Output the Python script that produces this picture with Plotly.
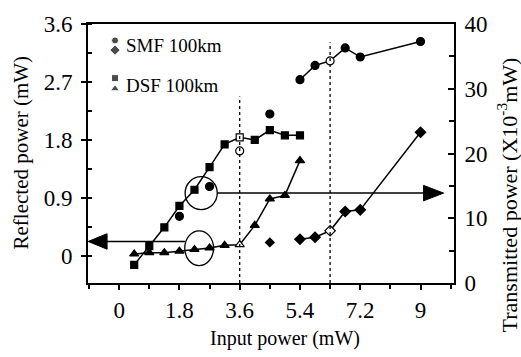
import plotly.graph_objects as go

# ---------------- data ----------------
# DSF 100km (squares = transmitted, triangles = reflected)
dsf_x = [0.45, 0.9, 1.35, 1.8, 2.25, 2.7, 3.15, 3.6, 4.05, 4.5, 4.95, 5.4]
dsf_trans = [2.8, 5.7, 8.6, 11.9, 14.4, 17.9, 21.4, 22.5, 22.1, 23.6, 22.8, 22.8]
dsf_refl = [0.03, 0.05, 0.05, 0.075, 0.10, 0.125, 0.165, 0.175, 0.475, 0.885, 0.94, 1.48]

# SMF 100km (circles = transmitted, diamonds = reflected)
smf_trans_pts_x = [1.8, 2.7, 3.6, 4.5]
smf_trans_pts = [10.3, 14.9, 20.4, 26.1]
smf_x = [5.4, 5.85, 6.3, 6.75, 7.2, 9.0]
smf_trans = [31.4, 33.6, 34.3, 36.3, 34.9, 37.3]
smf_refl_pts_x = [4.5]
smf_refl_pts = [0.21]
smf_refl = [0.26, 0.29, 0.39, 0.69, 0.715, 1.92]

dsf_threshold = 3.6
smf_threshold = 6.3

x_ticks = [0, 1.8, 3.6, 5.4, 7.2, 9]
x_ticklabels = ["0", "1.8", "3.6", "5.4", "7.2", "9"]
yl_ticks = [0, 0.9, 1.8, 2.7, 3.6]
yl_ticklabels = ["0", "0.9", "1.8", "2.7", "3.6"]
yr_ticks = [0, 10, 20, 30, 40]
yr_ticklabels = ["0", "10", "20", "30", "40"]

legend_labels = ["SMF 100km", "DSF 100km"]

FONT = "Liberation Serif"


def fills(xs, open_at):
    return ["white" if x in open_at else "black" for x in xs]


fig = go.Figure()

fig.add_trace(go.Scatter(
    x=dsf_x, y=dsf_trans, yaxis="y2", mode="lines+markers",
    line=dict(color="black", width=1.5),
    marker=dict(symbol="square", size=7, color=fills(dsf_x, [dsf_threshold]),
                line=dict(color="black", width=1.2)),
    showlegend=False))
fig.add_trace(go.Scatter(
    x=dsf_x, y=dsf_refl, yaxis="y", mode="lines+markers",
    line=dict(color="black", width=1.5),
    marker=dict(symbol="triangle-up", size=8, color=fills(dsf_x, [dsf_threshold]),
                line=dict(color="black", width=1.2)),
    showlegend=False))
fig.add_trace(go.Scatter(
    x=smf_trans_pts_x, y=smf_trans_pts, yaxis="y2", mode="markers",
    marker=dict(symbol="circle", size=8, color=fills(smf_trans_pts_x, [dsf_threshold]),
                line=dict(color="black", width=1.2)),
    showlegend=False))
fig.add_trace(go.Scatter(
    x=smf_x, y=smf_trans, yaxis="y2", mode="lines+markers",
    line=dict(color="black", width=1.5),
    marker=dict(symbol="circle", size=8, color=fills(smf_x, [smf_threshold]),
                line=dict(color="black", width=1.2)),
    showlegend=False))
fig.add_trace(go.Scatter(
    x=smf_refl_pts_x, y=smf_refl_pts, yaxis="y", mode="markers",
    marker=dict(symbol="diamond", size=8, color="black"),
    showlegend=False))
fig.add_trace(go.Scatter(
    x=smf_x, y=smf_refl, yaxis="y", mode="lines+markers",
    line=dict(color="black", width=1.5),
    marker=dict(symbol="diamond", size=8, color=fills(smf_x, [smf_threshold]),
                line=dict(color="black", width=1.2)),
    showlegend=False))

# ---------------- layout geometry ----------------
W, H = 521, 357
L, R, T, B = 88, 453.7, 15, 283

# legend keys drawn on a hidden pixel-scaled overlay axis
fig.add_trace(go.Scatter(
    x=[115, 115, 115, 115], y=[32, 42, 71, 82], xaxis="x3", yaxis="y3", mode="markers",
    marker=dict(symbol=["circle", "diamond", "square", "triangle-up"], size=[7, 8, 7, 8],
                color="black"),
    hoverinfo="skip", showlegend=False))


def px(xp):
    return (xp - L) / (R - L)


def py(yp):
    return (B - yp) / (B - T)


shapes = [
    # threshold dotted lines
    dict(type="line", xref="x", yref="paper", x0=dsf_threshold, x1=dsf_threshold,
         y0=0, y1=py(90), line=dict(color="black", width=1.3, dash="dot")),
    dict(type="line", xref="x", yref="paper", x0=smf_threshold, x1=smf_threshold,
         y0=0, y1=py(34), line=dict(color="black", width=1.3, dash="dot")),
    # circles
    dict(type="circle", xref="x", yref="y", x0=1.97, x1=2.93, y0=0.72, y1=1.23,
         line=dict(color="black", width=1.3)),
    dict(type="circle", xref="x", yref="y", x0=1.96, x1=2.82, y0=-0.15, y1=0.39,
         line=dict(color="black", width=1.3)),
    # right arrow
    dict(type="line", xref="x", yref="y", x0=2.93, x1=9.2, y0=0.975, y1=0.975,
         line=dict(color="black", width=1.5)),
    dict(type="path", xref="x", yref="y", path="M 9.09,0.855 L 9.69,0.975 L 9.09,1.095 Z",
         fillcolor="black", line=dict(color="black", width=1)),
    # left arrow
    dict(type="line", xref="x", yref="y", x0=1.97, x1=-0.45, y0=0.225, y1=0.225,
         line=dict(color="black", width=1.5)),
    dict(type="path", xref="x", yref="y", path="M -0.36,0.105 L -0.925,0.225 L -0.36,0.345 Z",
         fillcolor="black", line=dict(color="black", width=1)),
]

annotations = [
    dict(text="Input power (mW)", xref="paper", yref="paper", x=px(285), y=py(340),
         showarrow=False, font=dict(family=FONT, size=20, color="black"),
         xanchor="center", yanchor="middle"),
    dict(text="Reflected power (mW)", xref="paper", yref="paper", x=px(21), y=py(148),
         textangle=-90, showarrow=False, font=dict(family=FONT, size=21, color="black"),
         xanchor="center", yanchor="middle"),
    dict(text="Transmitted power (X10<sup>-3</sup>mW)", xref="paper", yref="paper",
         x=px(507), y=py(192), textangle=-90, showarrow=False,
         font=dict(family=FONT, size=22, color="black"),
         xanchor="center", yanchor="middle"),
    dict(text=legend_labels[0], xref="paper", yref="paper", x=px(124), y=py(37),
         showarrow=False, font=dict(family=FONT, size=19, color="black"),
         xanchor="left", yanchor="middle"),
    dict(text=legend_labels[1], xref="paper", yref="paper", x=px(124), y=py(79),
         showarrow=False, font=dict(family=FONT, size=19, color="black"),
         xanchor="left", yanchor="middle"),
]

axis_common = dict(showgrid=False, zeroline=False, showline=True, linecolor="black",
                   linewidth=2, tickcolor="black", tickwidth=1.5,
                   tickfont=dict(family=FONT, size=23, color="black"))

fig.update_layout(
    width=W, height=H,
    margin=dict(l=L, r=W - R, t=T, b=H - B),
    paper_bgcolor="white", plot_bgcolor="white",
    xaxis=dict(range=[-0.93, 10.0], tickvals=x_ticks, ticktext=x_ticklabels,
               ticks="outside", ticklen=5, mirror=True,
               minor=dict(dtick=0.9, tick0=0, ticks="outside", ticklen=4,
                          tickcolor="black", tickwidth=1.5),
               ticklabelstandoff=0, **axis_common),
    yaxis=dict(range=[-0.42, 3.6], tickvals=yl_ticks, ticktext=yl_ticklabels,
               ticks="outside", ticklen=5,
               minor=dict(dtick=0.45, tick0=0, ticks="inside", ticklen=4,
                          tickcolor="black", tickwidth=1.5),
               ticklabelstandoff=4, **axis_common),
    yaxis2=dict(range=[0, 40], tickvals=yr_ticks, ticktext=yr_ticklabels,
                ticks="inside", ticklen=6, overlaying="y", side="right",
                minor=dict(dtick=5, tick0=0, ticks="inside", ticklen=5,
                           tickcolor="black", tickwidth=1.5),
                ticklabelstandoff=4, **axis_common),
    xaxis3=dict(domain=[0, 1], range=[L, R], overlaying="x", visible=False, fixedrange=True),
    yaxis3=dict(domain=[0, 1], range=[B, T], overlaying="y", visible=False, fixedrange=True,
                anchor="x3"),
    shapes=shapes,
    annotations=annotations,
)
fig.data[-1].update(xaxis="x3")

fig.write_html("out.html")
